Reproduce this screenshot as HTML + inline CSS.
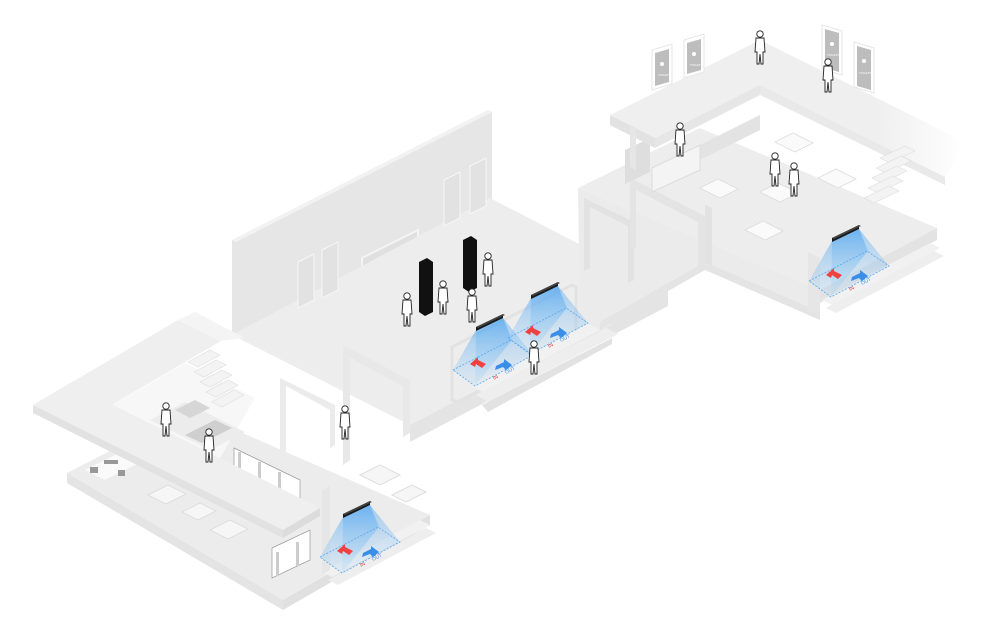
<!DOCTYPE html>
<html><head><meta charset="utf-8"><style>
html,body{margin:0;padding:0;background:#fff;width:1000px;height:635px;overflow:hidden}
svg{display:block;font-family:"Liberation Sans",sans-serif}
</style></head><body>
<svg width="1000" height="635" viewBox="0 0 1000 635" xmlns="http://www.w3.org/2000/svg">
<defs>
<linearGradient id="cone" x1="0" y1="0" x2="0" y2="1">
<stop offset="0" stop-color="#4aa3f0" stop-opacity="0.75"/>
<stop offset="1" stop-color="#9fd0f7" stop-opacity="0.25"/>
</linearGradient>
<linearGradient id="fadeR" x1="0" y1="0" x2="1" y2="0">
<stop offset="0.75" stop-color="#efefef"/><stop offset="1" stop-color="#fff"/>
</linearGradient>
<g id="sensor">
<polygon points="-14,6 -37,46 -15,62 22,16 13,-6" fill="url(#cone)" opacity="0.8"/>
<polygon points="-14,6 -15,62 43,31 13,-6" fill="url(#cone)" opacity="0.6"/>
<polygon points="-37,46 21,16 43,31 -15,62" fill="none" stroke="#58a8ee" stroke-width="0.8" stroke-dasharray="2,1.5"/>
<polygon points="-14,3 13,-10 13,-6 -14,7" fill="#1a1a1a"/>
<polygon points="-14,3 13,-10 15,-9 -12,4" fill="#444"/>
<polygon points="-20,40 -12,33 -12,36 -4,40 -8,44 -14,40 -15,43" fill="#f04040"/>
<polygon points="6,42 14,38 14,35 22,41 16,46 13,43 5,46" fill="#3a8ee8"/>
<text x="4" y="56" font-size="5" fill="#e03030" transform="rotate(-27 4 56)">IN</text>
<text x="16" y="50" font-size="5" fill="#3a8ee8" transform="rotate(-27 16 50)">OUT</text>
</g>
<g id="p">
<circle cx="0" cy="-26" r="3.2" fill="#fff" stroke="#222" stroke-width="0.9"/>
<path d="M-4,-22 L4,-22 L5,-8 L3,-8 L3,4 L1,4 L0,-6 L-1,4 L-3,4 L-3,-8 L-5,-8 Z" fill="#fff" stroke="#222" stroke-width="0.9"/>
</g>
</defs>

<!-- CENTRAL HALL -->
<polygon points="232,240 488,110 492,112 492,200 232,335" fill="#e6e6e6"/>
<polygon points="232,240 488,110 492,112 236,242" fill="#f2f2f2"/>
<polygon points="362,258 418,230 418,300 362,330" fill="#e0e0e0" stroke="#f4f4f4" stroke-width="2"/>
<polygon points="232,335 490,198 668,290 410,425" fill="#ededed"/>
<polygon points="410,425 668,290 668,306 410,442" fill="#e4e4e4"/>
<polygon points="298,262 314,254 314,300 298,308" fill="#e2e2e2" stroke="#f6f6f6"/>
<polygon points="322,250 338,242 338,290 322,298" fill="#e2e2e2" stroke="#f6f6f6"/>
<polygon points="444,180 460,172 460,218 444,226" fill="#e2e2e2" stroke="#f6f6f6"/>
<polygon points="470,166 486,158 486,206 470,214" fill="#e2e2e2" stroke="#f6f6f6"/>
<polygon points="419,262 427,258 433,262 433,312 425,316 419,312" fill="#111"/>
<polygon points="463,240 471,236 477,240 477,288 469,292 463,288" fill="#111"/>
<polygon points="343,345 410,380 410,433 403,437 403,386 350,358 350,460 343,465" fill="#e8e8e8"/>
<polygon points="280,378 335,405 335,445 330,448 330,410 286,386 286,460 280,463" fill="#ebebeb"/>
<polygon points="452,347 572,285 576,287 576,340 458,402 452,400" fill="none" stroke="#e2e2e2" stroke-width="3"/>
<polygon points="470,385 600,318 612,324 482,392" fill="#f1f1f1"/>
<polygon points="476,395 606,328 618,334 488,402" fill="#eeeeee"/>
<polygon points="482,405 612,338 612,344 488,412" fill="#e2e2e2"/>

<!-- CORRIDOR + RIGHT ROOM -->
<polygon points="578,188 700,128 937,228 820,290" fill="#ededed"/>
<polygon points="578,188 820,290 820,318 705,268 600,330 580,320" fill="#ebebeb"/>
<polygon points="705,205 712,208 712,268 705,268" fill="#e2e2e2"/>
<polygon points="820,290 937,228 937,240 820,303" fill="#e3e3e3"/>
<polygon points="600,330 705,270 820,320 820,312 705,262 600,322" fill="#e4e4e4"/>
<polygon points="584,198 634,222 634,280 628,283 628,226 590,207 590,268 584,271" fill="#e2e2e2"/>
<polygon points="630,178 705,216 705,268 698,272 698,222 636,190 636,248 630,251" fill="#e4e4e4"/>
<polygon points="808,252 820,258 820,315 808,310" fill="#e6e6e6"/>
<polygon points="660,165 760,115 760,130 660,180" fill="#e3e3e3"/>
<polygon points="652,168 700,145 700,170 652,192" fill="#f4f4f4" stroke="#dcdcdc"/>
<polygon points="625,150 650,138 650,172 625,184" fill="#dedede"/>
<g fill="#fafafa" stroke="#dcdcdc" stroke-width="0.8">
<polygon points="700,188 718,179 738,189 720,198"/>
<polygon points="745,230 763,221 783,231 765,240"/>
<polygon points="760,192 778,183 798,193 780,202"/>
<polygon points="818,178 836,169 856,179 838,188"/>
<polygon points="775,142 793,133 813,143 795,152"/>
</g>
<polygon points="822,300 930,243 940,248 832,305" fill="#f1f1f1"/>
<polygon points="826,308 934,251 944,256 836,313" fill="#eeeeee"/>

<!-- RIGHT MEZZANINE -->
<polygon points="610,115 760,40 965,142 945,177 760,85 655,138" fill="url(#fadeR)"/>
<polygon points="610,115 655,138 655,148 610,125" fill="#e2e2e2"/>
<polygon points="655,138 760,85 760,95 655,148" fill="#e6e6e6"/>
<polygon points="760,85 945,177 945,185 760,95" fill="#e9e9e9"/>
<polygon points="630,125 636,128 636,170 630,167" fill="#e6e6e6"/>
<g fill="#f3f3f3" stroke="#dedede" stroke-width="0.6">
<polygon points="880,158 905,146 915,151 890,163"/>
<polygon points="876,168 901,156 911,161 886,173"/>
<polygon points="872,178 897,166 907,171 882,183"/>
<polygon points="868,188 893,176 903,181 878,193"/>
<polygon points="864,198 889,186 899,191 874,203"/>
</g>
<g>
<polygon points="652,50 672,44 672,84 652,90" fill="#fff" stroke="#e6e6e6"/>
<polygon points="655,53 669,49 669,82 655,86" fill="#bdbdbd"/>
<polygon points="684,40 704,34 704,72 684,78" fill="#fff" stroke="#e6e6e6"/>
<polygon points="687,43 701,39 701,70 687,74" fill="#bdbdbd"/>
<polygon points="822,25 842,31 842,75 822,69" fill="#fff" stroke="#e6e6e6"/>
<polygon points="825,29 839,33 839,72 825,68" fill="#bdbdbd"/>
<polygon points="854,42 874,48 874,93 854,87" fill="#fff" stroke="#e6e6e6"/>
<polygon points="857,46 871,50 871,90 857,86" fill="#bdbdbd"/>
<g fill="#fff"><circle cx="662" cy="64" r="2"/><circle cx="694" cy="54" r="2"/><circle cx="832" cy="44" r="2"/><circle cx="864" cy="61" r="2"/></g>
<g font-size="3" fill="#fff"><text x="658" y="76">TOILETS</text><text x="690" y="66">TOILETS</text><text x="827" y="56">TOILETS</text><text x="859" y="74">TOILETS</text></g>
</g>

<!-- LEFT ROOM -->
<polygon points="67,473 190,410 430,515 283,600" fill="#ececec"/>
<polygon points="67,473 283,600 283,610 67,483" fill="#e4e4e4"/>
<polygon points="283,600 430,515 430,525 283,610" fill="#e0e0e0"/>
<polygon points="85,470 125,450 145,460 105,480" fill="#fafafa"/>
<g fill="#999"><rect x="90" y="467" width="8" height="6"/><rect x="118" y="470" width="7" height="6"/><rect x="104" y="460" width="14" height="4"/></g>
<g fill="#f6f6f6" stroke="#dadada" stroke-width="0.8">
<polygon points="148,495 168,485 186,494 166,504"/>
<polygon points="182,512 200,503 216,511 198,520"/>
<polygon points="210,530 230,520 248,529 228,539"/>
</g>
<polygon points="360,475 380,465 400,475 380,485" fill="#f6f6f6" stroke="#ddd"/>
<polygon points="392,495 412,485 426,492 406,502" fill="#f6f6f6" stroke="#ddd"/>
<g fill="#fff" stroke="#999" stroke-width="0.7">
<polygon points="234,448 300,480 300,512 234,480"/>
<polygon points="272,548 310,530 310,560 272,578"/>
</g>
<g fill="#ccc"><rect x="238" y="452" width="3" height="26"/><rect x="258" y="462" width="3" height="26"/><rect x="278" y="472" width="3" height="26"/><rect x="276" y="552" width="3" height="24"/><rect x="296" y="542" width="3" height="24"/></g>
<polygon points="322,572 420,520 430,525 332,577" fill="#f1f1f1"/>
<polygon points="328,580 426,528 436,533 338,585" fill="#eeeeee"/>
<polygon points="322,490 330,486 330,570 322,574" fill="#e6e6e6"/>
<polygon points="33,405 178,320 221,341 76,426" fill="#efefef"/>
<polygon points="33,405 283,530 320,508 70,383" fill="#efefef"/>
<polygon points="33,405 283,530 283,538 33,413" fill="#e2e2e2"/>
<polygon points="283,530 320,508 320,516 283,538" fill="#dcdcdc"/>
<polygon points="113,405 185,363 255,398 220,458" fill="#f7f7f7"/>
<polygon points="150,420 185,402 245,432 210,450" fill="#ececec"/>
<polygon points="175,410 195,400 210,408 190,418" fill="#d6d6d6"/>
<polygon points="185,435 215,420 232,428 202,443" fill="#cfcfcf"/>
<g fill="#f3f3f3" stroke="#dedede" stroke-width="0.6">
<polygon points="188,362 210,350 220,355 198,367"/>
<polygon points="194,372 216,360 226,365 204,377"/>
<polygon points="200,382 222,370 232,375 210,387"/>
<polygon points="206,392 228,380 238,385 216,397"/>
<polygon points="212,402 234,390 244,395 222,407"/>
</g>
<polygon points="178,320 195,312 245,338 221,341" fill="#f4f4f4"/>

<use href="#sensor" transform="translate(490,324)"/>
<use href="#sensor" transform="translate(545,292)"/>
<use href="#sensor" transform="translate(357,511)"/>
<use href="#sensor" transform="translate(846,235)"/>

<use href="#p" transform="translate(407,322)"/>
<use href="#p" transform="translate(443,310)"/>
<use href="#p" transform="translate(472,318)"/>
<use href="#p" transform="translate(488,282)"/>
<use href="#p" transform="translate(534,370)"/>
<use href="#p" transform="translate(345,435)"/>
<use href="#p" transform="translate(166,432)"/>
<use href="#p" transform="translate(209,458)"/>
<use href="#p" transform="translate(760,60)"/>
<use href="#p" transform="translate(828,88)"/>
<use href="#p" transform="translate(775,182)"/>
<use href="#p" transform="translate(794,192)"/>
<use href="#p" transform="translate(680,152)"/>
</svg>
</body></html>
